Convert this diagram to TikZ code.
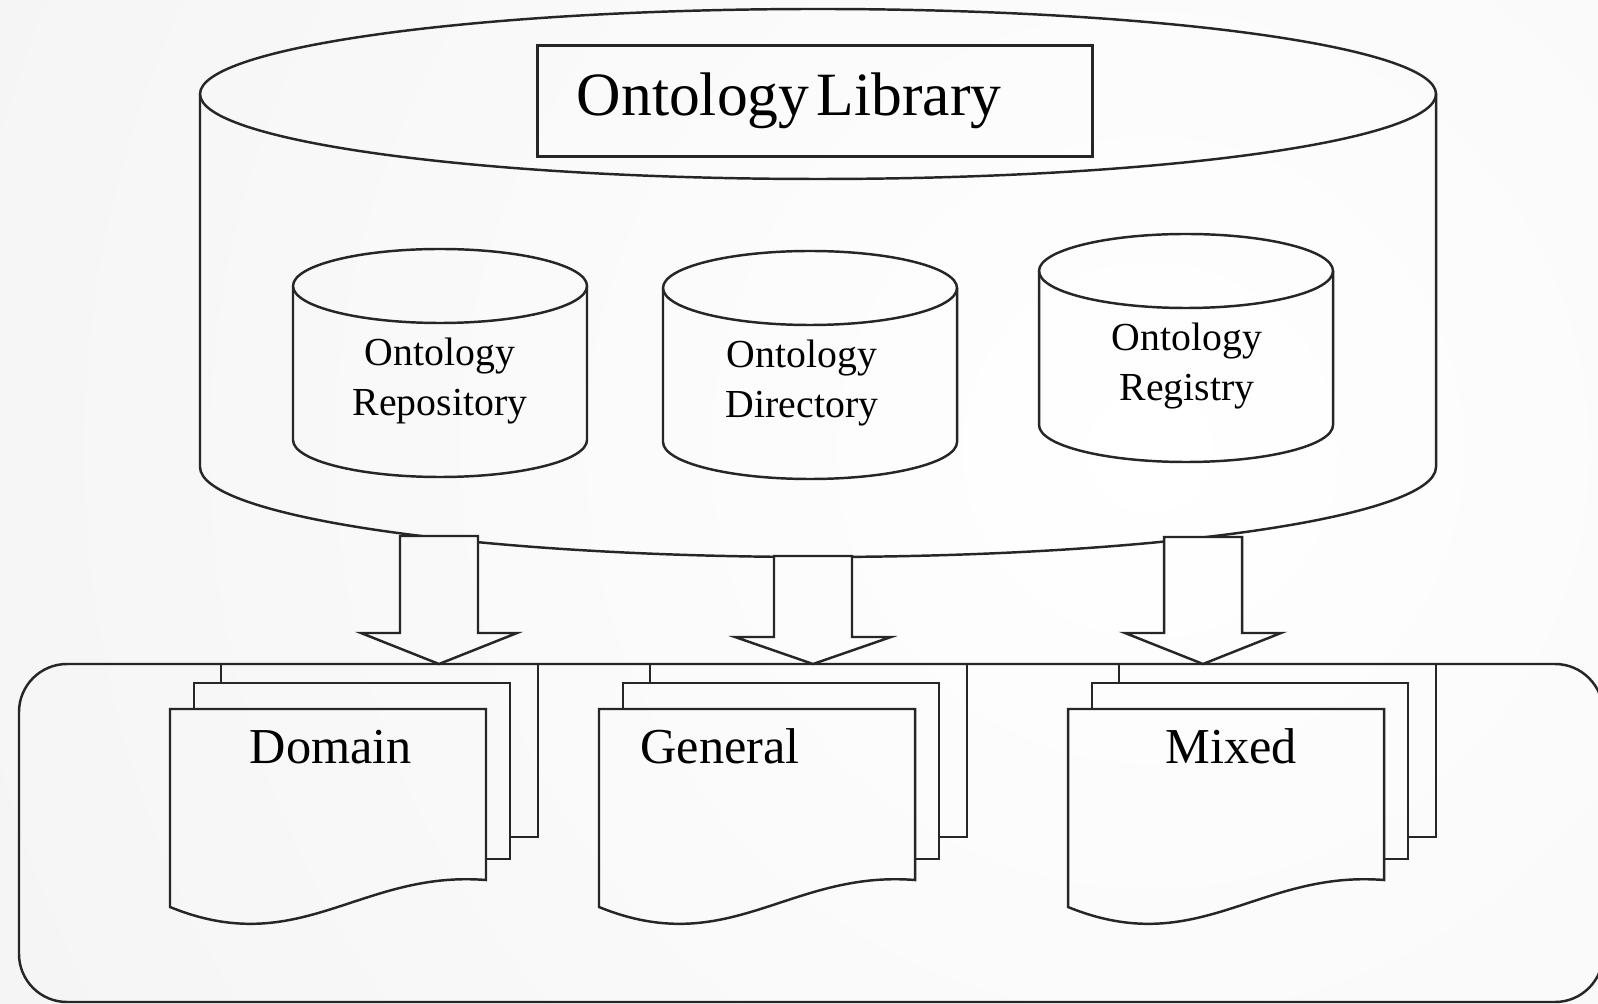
\documentclass[tikz,border=0pt]{standalone}
\usepackage{fontspec}
\setmainfont{Liberation Serif}
\usetikzlibrary{positioning}
\colorlet{linecol}{black!85}
\colorlet{bgout}{gray!15}
\tikzset{>=latex}
\newcommand{\bgshade}{\shade[inner color=white, outer color=bgout] (1150,450) circle (2400);}
\tikzset{
  outline/.style={draw=linecol, line width=0.7pt, line join=miter},
  bgfill/.style={path picture={\bgshade}},
  dbtext/.style={align=center, font=\fontsize{11.3}{14.2}\selectfont},
  doctext/.style={font=\fontsize{14.3}{17}\selectfont},
}

\begin{document}
\begin{tikzpicture}[x=0.01cm, y=-0.01cm]
\useasboundingbox (0,0) rectangle (1598,1004);

% --- Background ---
\begin{scope}
  \clip (0,0) rectangle (1598,1004);
  \bgshade
\end{scope}

% --- Ontology library (big cylinder) ---
\draw[outline] (818,94) ellipse [x radius=618, y radius=85];
\draw[outline] (200,94) -- (200,467)
  arc[start angle=180, end angle=0, x radius=618, y radius=90] -- (1436,94);

\node[outline, line width=0.9pt, minimum height=1.11cm, text width=4.76cm,
  inner xsep=0.39cm, inner ysep=0pt, align=left,
  font=\fontsize{17.5}{20}\selectfont] (title) at (815,101) {Ontology\hspace{0.12em}Library};

% --- Repository, directory, registry ---
\foreach \cx/\cy/\tx/\nm/\txt in {
  440/286/440/repo/Repository,
  810/288/802/dir/Directory,
  1186/271/1187/reg/Registry
}{
  \draw[outline] (\cx,\cy) ellipse [x radius=147, y radius=37];
  \draw[outline] (\cx-147,\cy) -- (\cx-147,\cy+154)
    arc[start angle=180, end angle=0, x radius=147, y radius=37] -- (\cx+147,\cy);
  \node[dbtext] (\nm) at (\tx,\cy+95) {Ontology\\\txt};
}

% --- Ontology kinds ---
\draw[outline, rounded corners=0.48cm] (19,664) rectangle (1603,1002);

% --- Block arrows ---
\foreach \ax/\at/\aw in {439/536/633, 813/556/637, 1203/537/633}{
  \draw[outline, bgfill] (\ax-39,\at) -- (\ax+39,\at) -- (\ax+39,\aw)
    -- (\ax+78,\aw) -- (\ax,664) -- (\ax-78,\aw) -- (\ax-39,\aw) -- cycle;
}

% --- Document stacks ---
\foreach \dx/\tx/\nm/\txt in {
  170/331/domain/Domain,
  599/720/general/General,
  1068/1231/mixed/Mixed
}{
  \draw[outline] (\dx+51,683) -- (\dx+51,664) -- (\dx+368,664)
    -- (\dx+368,837) -- (\dx+340,837);
  \draw[outline] (\dx+24,709) -- (\dx+24,683) -- (\dx+340,683)
    -- (\dx+340,859) -- (\dx+316,859);
  \draw[outline] (\dx,709) -- (\dx+316,709) -- (\dx+316,880)
    .. controls (\dx+190,870) and (\dx+130,960) .. (\dx,907) -- cycle;
  \node[doctext, anchor=base] (\nm) at (\tx,763) {\txt};
}

\end{tikzpicture}
\end{document}
